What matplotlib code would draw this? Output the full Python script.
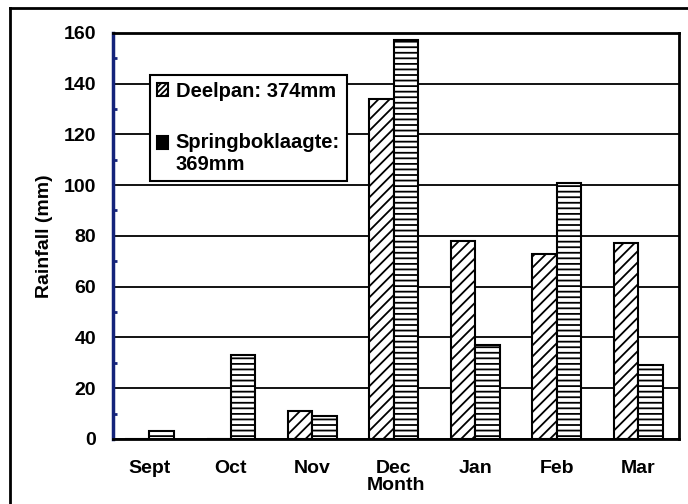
import matplotlib as mpl
import matplotlib.pyplot as plt
import numpy as np
from matplotlib.patches import Patch
from matplotlib.lines import Line2D

months = ['Sept', 'Oct', 'Nov', 'Dec', 'Jan', 'Feb', 'Mar']
deelpan = [0, 0, 11, 134, 78, 73, 77]
springbok = [3, 33, 9, 157, 37, 101, 29]
width = 0.3

plt.rcParams['font.family'] = ['Liberation Sans', 'DejaVu Sans']
plt.rcParams['font.weight'] = 'bold'
plt.rcParams['hatch.linewidth'] = 1.3

fig = plt.figure(figsize=(6.88, 5.04), dpi=100)
ax = fig.add_axes([0.164, 0.129, 0.823, 0.806])

# outer frame (left and top edges visible)
fig.add_artist(Line2D([10 / 688, 10 / 688], [0, 1 - 8 / 504], transform=fig.transFigure,
                      color='black', lw=2))
fig.add_artist(Line2D([10 / 688, 1], [1 - 8 / 504, 1 - 8 / 504], transform=fig.transFigure,
                      color='black', lw=2))

x = np.arange(len(months))
ax.bar(x - width / 2, deelpan, width, color='white', edgecolor='black', hatch='///',
       linewidth=1.5, zorder=3)
ax.bar(x + width / 2, springbok, width, color='white', edgecolor='black', hatch='---',
       linewidth=1.5, zorder=3)

ax.set_ylim(0, 160)
ax.set_xlim(-0.45, 6.5)
ax.set_yticks(np.arange(0, 161, 20))
ax.set_yticks(np.arange(10, 160, 20), minor=True)
ax.yaxis.grid(True, color='black', lw=1.3, zorder=1)
ax.set_axisbelow(True)
ax.set_xticks(x)
ax.set_xticklabels(months)
ax.tick_params(axis='x', length=0, labelsize=14, pad=15)
ax.tick_params(axis='y', which='major', length=0, labelsize=14, pad=12)
ax.tick_params(axis='y', which='minor', direction='in', length=3, width=2, color='#14237a')

for s in ['top', 'right', 'bottom']:
    ax.spines[s].set_linewidth(2)
    ax.spines[s].set_color('black')
ax.spines['left'].set_color('#14237a')
ax.spines['left'].set_linewidth(2.5)

ax.set_xlabel('Month', fontsize=14, fontweight='bold', labelpad=0)
ax.set_ylabel('Rainfall (mm)', fontsize=14, fontweight='bold', labelpad=8)

handles = [Patch(facecolor='white', edgecolor='black', hatch='//////', lw=1.5),
           Patch(facecolor='black', edgecolor='black', hatch='---', lw=1.5)]
leg = ax.legend(handles, ['Deelpan: 374mm', 'Springboklaagte:\n369mm'],
                loc='upper left', bbox_to_anchor=(0.047, 0.922), fontsize=14.5,
                frameon=True, fancybox=False, edgecolor='black', framealpha=1,
                handlelength=0.55, handleheight=0.55, handletextpad=0.4,
                labelspacing=1.6, borderpad=0.35)
leg.get_frame().set_linewidth(1.5)
leg.set_zorder(5)
# line the second marker up with the first line of its label
h2 = leg.legend_handles[1]
h2.set_y(h2.get_y() + 8)

fig.savefig('out.png', dpi=100)
